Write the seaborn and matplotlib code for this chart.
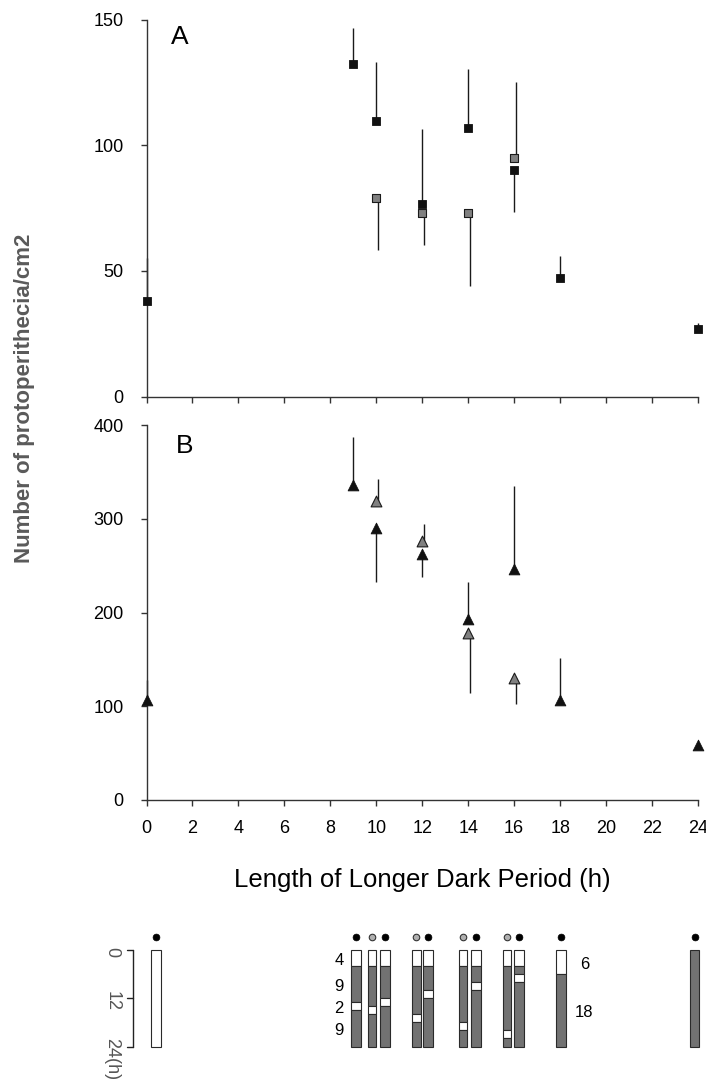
import numpy as np
import pandas as pd
import matplotlib
matplotlib.use("Agg")
import matplotlib.pyplot as plt
import seaborn as sns

# ---------------- data ----------------
hours_ticks = [0, 2, 4, 6, 8, 10, 12, 14, 16, 18, 20, 22, 24]

# Panel A (squares)
A_black_x = [0, 9, 10, 12, 14, 16, 18, 24]
A_black_y = [38.0, 132.4, 109.7, 76.7, 106.8, 90.1, 47.2, 27.0]
A_black_lo = [0, 0, 0, 0, 0, 16.6, 0, 0]
A_black_hi = [17.2, 14.1, 23.6, 29.7, 23.6, 0, 8.8, 2.4]
A_gray_x = [10, 12, 14, 16]
A_gray_y = [79.0, 72.9, 73.2, 94.8]
A_gray_lo = [20.5, 12.7, 29.3, 0]
A_gray_hi = [0, 0, 0, 30.3]
A_yticks = [0, 50, 100, 150]

# Panel B (triangles)
B_black_x = [0, 9, 10, 12, 14, 16, 18, 24]
B_black_y = [106.7, 336.0, 289.8, 262.4, 193.4, 246.4, 106.7, 58.7]
B_black_lo = [0, 0, 56.9, 24.9, 0, 0, 0, 0]
B_black_hi = [21.3, 51.5, 0, 0, 39.5, 88.6, 44.3, 0]
B_gray_x = [10, 12, 14, 16]
B_gray_y = [319.0, 276.3, 177.8, 130.5]
B_gray_lo = [0, 0, 64.0, 28.5]
B_gray_hi = [23.4, 18.1, 0, 0]
B_yticks = [0, 100, 200, 300, 400]

# Light/dark schedule schematic (hours of Light / Dark, top = 0 h)
sched_x = [0.40, 9.11, 9.82, 10.38, 11.74, 12.26, 13.78, 14.35, 15.68, 16.21, 18.05, 23.85]
sched_dot = ["k", "k", "g", "k", "g", "k", "g", "k", "g", "k", "k", "k"]
sched_seg = [
    [("L", 24)],
    [("L", 4), ("D", 9), ("L", 2), ("D", 9)],
    [("L", 4), ("D", 10), ("L", 2), ("D", 8)],
    [("L", 4), ("D", 8), ("L", 2), ("D", 10)],
    [("L", 4), ("D", 12), ("L", 2), ("D", 6)],
    [("L", 4), ("D", 6), ("L", 2), ("D", 12)],
    [("L", 4), ("D", 14), ("L", 2), ("D", 4)],
    [("L", 4), ("D", 4), ("L", 2), ("D", 14)],
    [("L", 4), ("D", 16), ("L", 2), ("D", 2)],
    [("L", 4), ("D", 2), ("L", 2), ("D", 16)],
    [("L", 6), ("D", 18)],
    [("D", 24)],
]
seg_labels_left = ["4", "9", "2", "9"]      # next to the 9 h schedule
seg_labels_right = ["6", "18"]              # next to the 18 h schedule
scale_labels = ["0", "12", "24(h)"]
scale_hours = [0, 12, 24]

# ---------------- style ----------------
sns.set_theme(style="ticks")
plt.rcParams["font.family"] = ["Liberation Sans", "DejaVu Sans"]
plt.rcParams["text.color"] = "black"
plt.rcParams["axes.labelcolor"] = "black"
plt.rcParams["xtick.color"] = "black"
plt.rcParams["ytick.color"] = "black"

W, H = 706, 1088
fig = plt.figure(figsize=(W / 100, H / 100), dpi=100)

x0, x1 = 146.5, 698.0
def ax_rect(top_px, bot_px):
    return [x0 / W, 1 - bot_px / H, (x1 - x0) / W, (bot_px - top_px) / H]

axA = fig.add_axes(ax_rect(19.7, 396.6))
axB = fig.add_axes(ax_rect(425.0, 800.0))
axS = fig.add_axes(ax_rect(950.0, 1046.5))

BLACK = "#111111"
GRAY = "#808080"
SPINE = "#333333"


def draw_panel(ax, bx, by, blo, bhi, gx, gy, glo, ghi, marker, size, yticks, ymax):
    # error bars (one-sided)
    for xs, ys, lo, hi, dx in ((bx, by, blo, bhi, 0.0), (gx, gy, glo, ghi, 0.06)):
        ys = np.asarray(ys); lo = np.asarray(lo); hi = np.asarray(hi)
        ax.vlines(np.asarray(xs) + dx, ys - lo, ys + hi, color="#1a1a1a", lw=1.0,
                  zorder=2, clip_on=False)
    dfb = pd.DataFrame({"x": bx, "y": by})
    dfg = pd.DataFrame({"x": gx, "y": gy})
    sns.scatterplot(data=dfb, x="x", y="y", ax=ax, marker=marker, s=size,
                    color=BLACK, edgecolor=BLACK, linewidth=0.6, zorder=4, clip_on=False)
    sns.scatterplot(data=dfg, x="x", y="y", ax=ax, marker=marker, s=size,
                    color=GRAY, edgecolor="#1a1a1a", linewidth=0.8, zorder=3, clip_on=False)
    ax.set_xlim(0, 24)
    ax.set_ylim(0, ymax)
    ax.set_xticks(hours_ticks)
    ax.set_yticks(yticks)
    ax.set_xlabel("")
    ax.set_ylabel("")
    for s in ("top", "right"):
        ax.spines[s].set_visible(False)
    for s in ("left", "bottom"):
        ax.spines[s].set_color(SPINE)
        ax.spines[s].set_linewidth(1.0)
    ax.tick_params(axis="both", direction="out", length=4.3, width=1.0,
                   color=SPINE, labelsize=13, labelcolor="black")
    ax.tick_params(axis="y", pad=12)
    ax.tick_params(axis="x", pad=10)
    ax.grid(False)


draw_panel(axA, A_black_x, A_black_y, A_black_lo, A_black_hi,
           A_gray_x, A_gray_y, A_gray_lo, A_gray_hi, "s", 32, A_yticks, 150)
axA.tick_params(axis="x", labelbottom=False)
draw_panel(axB, B_black_x, B_black_y, B_black_lo, B_black_hi,
           B_gray_x, B_gray_y, B_gray_lo, B_gray_hi, "^", 60, B_yticks, 400)

axA.text(0.0436, 0.936, "A", transform=axA.transAxes, fontsize=19,
         ha="left", va="baseline", color="black")
axB.text(0.053, 0.925, "B", transform=axB.transAxes, fontsize=19,
         ha="left", va="baseline", color="black")

axB.set_xlabel("Length of Longer Dark Period (h)", fontsize=18.5, color="black")
axB.xaxis.set_label_coords(0.5, (800 - 887.3) / 375.0)
axB.xaxis.label.set_va("baseline")

fig.text(25 / W, 1 - 398 / H, "Number of protoperithecia/cm2", rotation=90,
         fontsize=16, fontweight="bold", color="#5a5a5a", ha="center", va="center")

# ---------------- schedule schematic ----------------
axS.set_xlim(0, 24)
axS.set_ylim(24, 0)
axS.axis("off")
LIGHT_C, DARK_C = "white", "#727272"
for i, (xc, segs) in enumerate(zip(sched_x, sched_seg)):
    wdt = 0.37 if sched_dot[i] == "g" else 0.42
    start = 0
    for kind, dur in segs:
        axS.bar(xc, dur, bottom=start, width=wdt,
                color=LIGHT_C if kind == "L" else DARK_C,
                edgecolor="#2a2a2a", linewidth=0.8, clip_on=False, zorder=2)
        start += dur
    if sched_dot[i] == "k":
        axS.scatter([xc], [-3.15], s=24, color="black", edgecolor="black",
                    linewidth=0.5, clip_on=False, zorder=3)
    else:
        axS.scatter([xc], [-3.15], s=22, color="#b0b0b0", edgecolor="#333333",
                    linewidth=0.8, clip_on=False, zorder=3)

# segment labels beside the 9 h and 18 h schedules
start = 0
for (kind, dur), lab in zip(sched_seg[1], seg_labels_left):
    axS.text(8.38, start + dur / 2 + 0.5, lab, fontsize=12, ha="center", va="center",
             color="black")
    start += dur
start = 0
for (kind, dur), lab in zip(sched_seg[10], seg_labels_right):
    axS.text(19.05, start + dur / 2 + 0.5, lab, fontsize=12, ha="center", va="center",
             color="black")
    start += dur

# vertical hour scale bracket
axS.plot([-0.57, -0.57], [0, 24], color="#222222", lw=1.0, clip_on=False)
for hh in scale_hours:
    axS.plot([-0.86, -0.57], [hh, hh], color="#222222", lw=1.0, clip_on=False)
label_pos = [0.6, 12.8, 27.0]
for hh, lab in zip(label_pos, scale_labels):
    axS.text(-1.5, hh, lab, rotation=-90, fontsize=13, color="#555555",
             ha="center", va="center", clip_on=False)

fig.savefig("out.png", dpi=100)
